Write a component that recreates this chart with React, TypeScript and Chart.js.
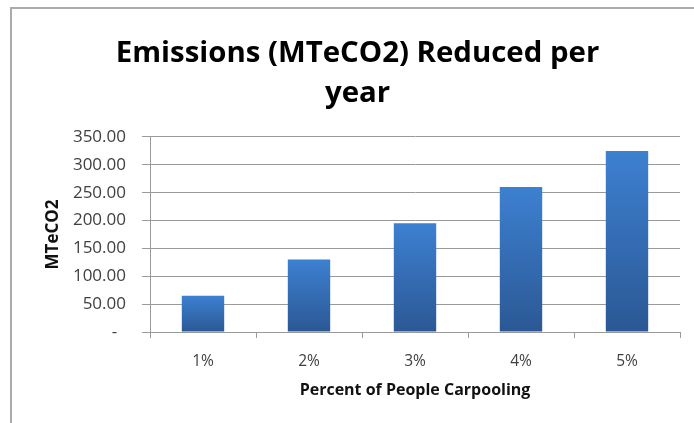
import React, { useEffect, useRef } from 'react';
import { Chart, registerables } from 'chart.js';

Chart.register(...registerables);

// Chart data
const categories = ['1%', '2%', '3%', '4%', '5%'];
const reductions = [65, 130, 195, 260, 325];
const yTickValues = [0, 50, 100, 150, 200, 250, 300, 350];
const titleLines = ['Emissions (MTeCO2) Reduced per', 'year'];
const yAxisTitle = 'MTeCO2';
const xAxisTitle = 'Percent of People Carpooling';

const FONT = "'Open Sans', 'Liberation Sans', sans-serif";
const GRID = '#9a9a9a';

// Grey frame along the top and left edge, drawn behind everything else
const framePlugin = {
  id: 'frame',
  beforeDraw(chart: any) {
    const { ctx, width, height } = chart;
    ctx.save();
    ctx.fillStyle = '#ffffff';
    ctx.fillRect(0, 0, width, height);
    ctx.strokeStyle = '#ababab';
    ctx.lineWidth = 2;
    ctx.beginPath();
    ctx.moveTo(11, height);
    ctx.lineTo(11, 8);
    ctx.lineTo(width, 8);
    ctx.stroke();
    ctx.restore();
  },
};

// Vertical gradient per bar: lighter at the top, darker at the base
function barFill(context: any) {
  const chart = context.chart;
  const yScale = chart.scales?.y;
  if (context.type !== 'data' || !yScale) return '#3874c0';
  const top = yScale.getPixelForValue(context.raw);
  const base = yScale.getPixelForValue(0);
  if (!isFinite(top) || !isFinite(base) || top === base) return '#3874c0';
  const g = chart.ctx.createLinearGradient(0, top, 0, base);
  g.addColorStop(0, '#3d80d1');
  g.addColorStop(1, '#2b5894');
  return g;
}

export default function App() {
  const canvasRef = useRef<HTMLCanvasElement | null>(null);

  useEffect(() => {
    if (!canvasRef.current) return;
    const chart = new Chart(canvasRef.current, {
      type: 'bar',
      data: {
        labels: categories,
        datasets: [
          {
            label: yAxisTitle,
            data: reductions,
            backgroundColor: barFill,
            borderWidth: 0,
            barPercentage: 0.4,
            categoryPercentage: 1,
          },
        ],
      },
      plugins: [framePlugin],
      options: {
        animation: false,
        responsive: false,
        devicePixelRatio: 1,
        layout: { padding: { left: 35, right: 14, top: 0, bottom: 0 } },
        plugins: {
          legend: { display: false },
          tooltip: { enabled: false },
          title: {
            display: true,
            text: titleLines,
            color: '#000000',
            font: { family: FONT, size: 29.4, weight: 'bold', lineHeight: 1.36 },
            padding: { top: 34, bottom: 23 },
          },
        },
        scales: {
          x: {
            grid: {
              display: true,
              drawOnChartArea: false,
              drawTicks: true,
              tickLength: 6,
              color: GRID,
              offset: true,
            },
            border: { color: GRID },
            ticks: {
              color: '#404040',
              font: { family: FONT, size: 15.5 },
              padding: 14,
            },
            title: {
              display: true,
              text: xAxisTitle,
              color: '#111111',
              font: { family: FONT, size: 16, weight: 'bold' },
              padding: { top: 0, bottom: 23 },
            },
            afterFit: (scale: any) => {
              scale.height = 91;
            },
          },
          y: {
            min: yTickValues[0],
            max: yTickValues[yTickValues.length - 1],
            grid: { color: GRID, tickLength: 8, drawTicks: true },
            border: { color: GRID },
            ticks: {
              stepSize: yTickValues[1] - yTickValues[0],
              color: '#404040',
              font: { family: FONT, size: 17 },
              padding: 16,
              callback: (v: any) => (Number(v) === 0 ? '-  ' : Number(v).toFixed(2)),
            },
            title: {
              display: true,
              text: yAxisTitle,
              color: '#111111',
              font: { family: FONT, size: 17, weight: 'bold' },
              padding: { top: 8, bottom: 0 },
            },
            afterFit: (scale: any) => {
              scale.width = 115;
            },
          },
        },
      },
    } as any);
    return () => chart.destroy();
  }, []);

  return (
    <div style={{ position: 'fixed', left: 0, top: 0, width: 694, height: 423, background: '#fff' }}>
      <canvas ref={canvasRef} width={694} height={423} style={{ display: 'block' }} />
    </div>
  );
}
